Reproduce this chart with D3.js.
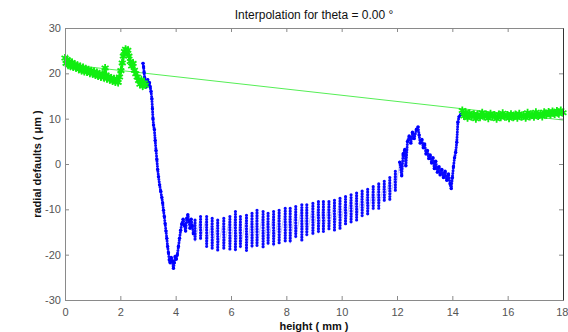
<!DOCTYPE html>
<html>
<head>
<meta charset="utf-8">
<script src="https://cdn.jsdelivr.net/npm/d3@7/dist/d3.min.js"></script>
<style>
  body { margin: 0; background: #fff; }
  svg { display: block; font-family: "Liberation Sans", Arial, sans-serif; }
</style>
</head>
<body>
<div id="chart"></div>
<script>
// ---- data ----
const xTicks = [0, 2, 4, 6, 8, 10, 12, 14, 16, 18];
const yTicks = [-30, -20, -10, 0, 10, 20, 30];

// kept measurements, left part (mm, µm)
const greenLeft = [
  [0.00,23.4],[0.04,22.2],[0.08,23.0],[0.12,21.9],[0.16,22.6],[0.20,21.6],[0.25,22.4],[0.30,21.4],
  [0.35,22.0],[0.40,21.2],[0.45,21.8],[0.50,20.9],[0.55,21.5],[0.60,20.6],[0.65,21.3],[0.70,20.4],
  [0.75,21.0],[0.80,20.3],[0.85,20.8],[0.90,20.0],[0.95,20.6],[1.00,19.9],[1.05,20.4],[1.10,19.6],
  [1.15,20.2],[1.20,19.4],[1.25,19.9],[1.30,19.2],[1.35,19.8],[1.40,19.1],[1.45,21.2],[1.48,19.6],
  [1.52,18.8],[1.57,19.3],[1.62,18.6],[1.67,19.0],[1.72,18.3],[1.77,18.8],[1.82,18.1],[1.87,18.6],
  [1.92,18.0],[1.97,19.2],[2.02,20.6],[2.07,22.3],[2.11,23.8],[2.15,24.8],[2.19,25.3],[2.23,24.6],
  [2.27,25.1],[2.31,23.8],[2.36,22.6],[2.41,21.6],[2.46,22.2],[2.51,20.7],[2.56,19.9],[2.61,19.2],
  [2.66,18.4],[2.71,17.6],[2.76,18.5],[2.81,17.2],[2.86,17.9],[2.90,17.4]
];

// kept measurements, right part
const greenRight = [
  [14.36,11.8],[14.42,10.6],[14.48,11.4],[14.55,10.2],[14.62,11.2],[14.70,10.4],[14.78,11.0],[14.85,10.0],
  [14.92,10.9],[15.00,10.3],[15.08,11.3],[15.15,10.5],[15.22,10.9],[15.30,10.1],[15.38,11.1],[15.45,10.4],
  [15.52,10.8],[15.60,10.0],[15.68,10.9],[15.75,10.3],[15.82,11.2],[15.90,10.4],[15.98,10.8],[16.05,10.1],
  [16.12,11.0],[16.20,10.3],[16.28,10.9],[16.35,10.2],[16.42,11.1],[16.50,10.4],[16.58,10.8],[16.65,10.2],
  [16.72,11.3],[16.80,10.5],[16.88,11.0],[16.95,10.4],[17.02,11.4],[17.10,10.6],[17.18,11.1],[17.25,10.5],
  [17.32,11.4],[17.40,10.8],[17.48,11.5],[17.55,10.9],[17.62,11.6],[17.70,11.0],[17.78,11.7],[17.85,11.1],
  [17.92,11.8],[18.00,11.3]
];

// interpolation across the removed zone
const interpLine = [[0, 22.0], [18, 9.7]];

// removed measurements: drop into the groove
const blueDrop = [
  [2.82,22.2],[2.84,21.4],[2.86,20.2],[2.88,19.0],[2.90,17.8],[2.93,17.0],[2.96,17.8],[2.99,18.6],
  [3.02,17.6],[3.05,18.0],[3.08,17.0],[3.11,16.0],[3.14,14.4],[3.16,12.2],[3.18,10.0],[3.20,8.6],
  [3.23,7.6],[3.26,5.2],[3.29,3.0],[3.32,1.0],[3.35,-1.2],[3.38,-2.8],[3.42,-4.6],[3.46,-6.0],
  [3.50,-7.4],[3.53,-8.6],[3.56,-10.2],[3.59,-11.6],[3.62,-13.2],[3.65,-14.8],[3.68,-16.4],[3.71,-18.2],
  [3.74,-19.6],[3.77,-21.2],[3.80,-21.8],[3.84,-20.6],[3.88,-21.4],[3.92,-23.0],[3.95,-21.8],[3.98,-20.4],
  [4.02,-21.0],[4.06,-20.0],[4.10,-18.2],[4.14,-16.4],[4.18,-14.6],[4.22,-13.2],[4.27,-12.2],[4.32,-13.6],
  [4.36,-14.8],[4.40,-12.0],[4.44,-11.2],[4.48,-12.6],[4.52,-14.2],[4.56,-12.2],[4.60,-13.6],[4.64,-15.4]
];

// removed measurements: striped band (one stripe = top..bottom at one height)
const stripeX = [4.70,4.90,5.12,5.32,5.52,5.74,5.96,6.16,6.34,6.56,6.76,6.94,7.16,7.34,7.54,7.74,7.96,
  8.14,8.34,8.56,8.74,8.96,9.16,9.34,9.54,9.74,9.94,10.14,10.34,10.54,10.74,10.94,11.14,11.34,11.54,11.74,11.94];
const stripeTop = [-12.4,-11.6,-11.6,-12.0,-12.4,-12.0,-11.6,-10.5,-11.6,-11.3,-10.9,-10.2,-10.5,-10.9,-10.5,-10.2,-9.8,
  -9.8,-9.4,-9.0,-9.0,-8.7,-8.3,-8.3,-8.3,-8.0,-7.6,-7.2,-6.8,-6.4,-6.0,-5.6,-5.0,-4.4,-3.8,-3.0,-1.6];
const stripeBottom = [-17.1,-16.8,-18.2,-18.6,-19.0,-18.6,-19.0,-19.3,-18.6,-19.3,-18.6,-18.2,-18.6,-17.9,-18.2,-17.5,-17.1,
  -17.5,-16.4,-16.8,-16.0,-15.7,-15.3,-14.9,-14.6,-14.6,-14.2,-13.4,-12.8,-12.6,-11.8,-11.4,-10.2,-9.8,-8.4,-8.2,-6.0];

// removed measurements: bump and rise back
const bluePeak = [
  [12.10,0.4],[12.17,-2.6],[12.22,2.2],[12.28,3.2],[12.32,-0.4],[12.38,5.0],[12.44,6.2],[12.50,4.6],
  [12.56,7.0],[12.62,5.6],[12.70,7.6],[12.76,8.2],[12.80,6.4],[12.84,4.6],[12.90,5.4],[12.95,3.6],
  [13.00,4.4],[13.05,2.2],[13.10,3.0],[13.15,1.2],[13.20,2.0],[13.25,0.2],[13.30,1.4],[13.35,-1.0],
  [13.40,0.6],[13.46,-1.8],[13.52,-0.6],[13.56,-2.4],[13.62,-1.2],[13.68,-3.0],[13.74,-1.6],[13.80,-3.6],
  [13.86,-2.2],[13.92,-4.4],[13.96,-5.4],[14.00,-3.0],[14.04,-0.6],[14.08,1.4],[14.12,2.6],[14.16,4.8],
  [14.20,9.2],[14.24,10.4],[14.30,10.9],[14.36,11.2]
];

// raw points hidden under the right green band
const blueUnder = [
  [14.6,10.8],[15.0,10.6],[15.4,10.7],[15.9,10.5],[16.4,10.6],[16.9,10.7],[17.3,11.0],[17.8,11.2]
];

// ---- layout ----
const W = 568, H = 332;
const m = { left: 65, right: 5, top: 28, bottom: 32 };

const svg = d3.select("#chart").append("svg")
  .attr("width", W).attr("height", H);

const x = d3.scaleLinear().domain([0, 18]).range([m.left, W - m.right]);
const y = d3.scaleLinear().domain([-30, 30]).range([H - m.bottom, m.top]);

const line = d3.line().x(d => x(d[0])).y(d => y(d[1]));

const plot = svg.append("g");

// interpolation line
plot.append("path").datum(interpLine)
  .attr("d", line)
  .attr("fill", "none")
  .attr("stroke", "#55ee55")
  .attr("stroke-width", 1);

// faint connecting line through all raw points
const stripePts = [];
stripeX.forEach((sx, i) => { stripePts.push([sx, stripeTop[i]], [sx, stripeBottom[i]]); });
const rawAll = blueDrop.concat(stripePts, bluePeak, blueUnder);
plot.append("path").datum(rawAll)
  .attr("d", line)
  .attr("fill", "none")
  .attr("stroke", "#8c8cff")
  .attr("stroke-width", 0.8)
  .attr("opacity", 0.6);

// dotted traces (marker every few px along the measured trace)
[blueDrop, bluePeak].forEach(seg => {
  plot.append("path").datum(seg)
    .attr("d", line)
    .attr("fill", "none")
    .attr("stroke", "#0a0aff")
    .attr("stroke-width", 3)
    .attr("stroke-linecap", "round")
    .attr("stroke-dasharray", "0 2.6");
});

plot.selectAll(".stripe").data(stripeX)
  .enter().append("line")
  .attr("class", "stripe")
  .attr("x1", d => x(d)).attr("x2", d => x(d))
  .attr("y1", (d, i) => y(stripeTop[i]))
  .attr("y2", (d, i) => y(stripeBottom[i]))
  .attr("stroke", "#0a0aff")
  .attr("stroke-width", 3.2)
  .attr("stroke-linecap", "round")
  .attr("stroke-dasharray", "0 2.7");

plot.selectAll(".dot").data(blueDrop.concat(bluePeak, blueUnder))
  .enter().append("circle")
  .attr("class", "dot")
  .attr("cx", d => x(d[0])).attr("cy", d => y(d[1]))
  .attr("r", 1.7)
  .attr("fill", "#0000ff");

// green kept data: joined line plus asterisk markers
[greenLeft, greenRight].forEach(seg => {
  plot.append("path").datum(seg)
    .attr("d", line)
    .attr("fill", "none")
    .attr("stroke", "#11ee11")
    .attr("stroke-width", 3);
});
const star = d3.symbol().type(d3.symbolAsterisk).size(44);
plot.selectAll(".kept").data(greenLeft.concat(greenRight))
  .enter().append("path")
  .attr("class", "kept")
  .attr("d", star)
  .attr("transform", d => `translate(${x(d[0])},${y(d[1])})`)
  .attr("fill", "none")
  .attr("stroke", "#11ee11")
  .attr("stroke-width", 1.8);

// ---- axes, matlab-ish box with inward ticks ----
const axisColor = "#8a8a8a";
function styleAxis(g) {
  g.selectAll("path.domain").attr("stroke", axisColor);
  g.selectAll(".tick line").attr("stroke", axisColor);
  g.selectAll(".tick text").attr("fill", "#555").style("font-size", "11px");
}

svg.append("g")
  .attr("transform", `translate(0,${H - m.bottom})`)
  .call(d3.axisBottom(x).tickValues(xTicks).tickSizeInner(-4).tickSizeOuter(0).tickPadding(8)
    .tickFormat(d => String(d)))
  .call(styleAxis)
  .call(g => g.selectAll(".tick text").filter(d => d === 18).attr("text-anchor", "end").attr("dx", "5"));

svg.append("g")
  .attr("transform", `translate(0,${m.top})`)
  .call(d3.axisTop(x).tickValues(xTicks).tickSizeInner(-4).tickSizeOuter(0).tickFormat(""))
  .call(styleAxis);

svg.append("g")
  .attr("transform", `translate(${m.left},0)`)
  .call(d3.axisLeft(y).tickValues(yTicks).tickSizeInner(-4).tickSizeOuter(0).tickPadding(4)
    .tickFormat(d => String(d)))
  .call(styleAxis);

svg.append("g")
  .attr("transform", `translate(${W - m.right},0)`)
  .call(d3.axisRight(y).tickValues(yTicks).tickSizeInner(-4).tickSizeOuter(0).tickFormat(""))
  .call(styleAxis)
  .call(g => g.select("path.domain").attr("stroke", "#333"));

// ---- texts ----
svg.append("text")
  .attr("x", (m.left + W - m.right) / 2).attr("y", 19)
  .attr("text-anchor", "middle")
  .style("font-size", "12px")
  .attr("fill", "#111")
  .text("Interpolation for theta = 0.00 °");

svg.append("text")
  .attr("x", (m.left + W - m.right) / 2).attr("y", 330)
  .attr("text-anchor", "middle")
  .style("font-size", "11px").style("font-weight", "bold")
  .attr("fill", "#111")
  .text("height ( mm )");

svg.append("text")
  .attr("transform", `translate(41,${(m.top + H - m.bottom) / 2}) rotate(-90)`)
  .attr("text-anchor", "middle")
  .style("font-size", "11px").style("font-weight", "bold")
  .attr("fill", "#111")
  .text("radial defaults ( μm )");
</script>
</body>
</html>
